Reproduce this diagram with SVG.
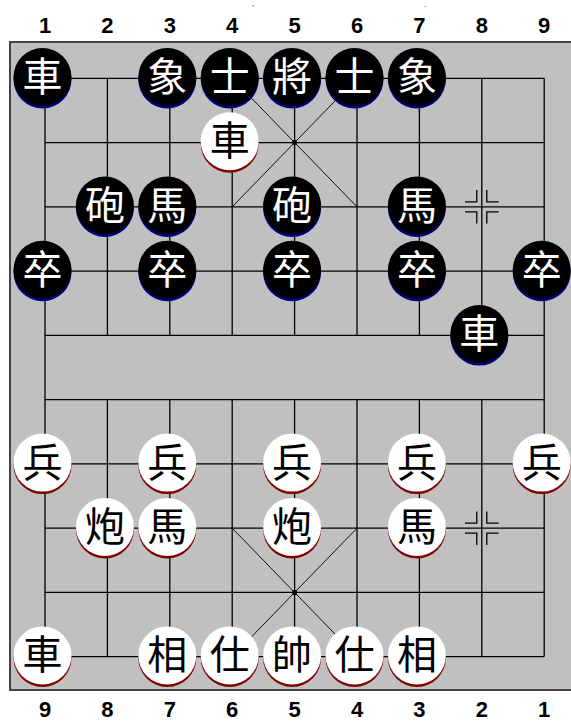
<svg xmlns="http://www.w3.org/2000/svg" width="571" height="722" viewBox="0 0 571 722">
<style>
.num{font-family:"Liberation Sans",Arial,sans-serif;font-weight:bold;font-size:22px;text-anchor:middle;fill:#000}
.g{stroke:#000;stroke-width:1.3;fill:none}
.d{stroke:#111;stroke-width:1;fill:none}
.bk .body{fill:#000}
.bk .sh{fill:#000080}
.bk text{fill:#fff}
.rd .body{fill:#fff}
.rd .sh{fill:#800000}
.rd text{fill:#000}
.pc text{font-family:"Noto Sans CJK TC","Noto Sans CJK SC",sans-serif;font-size:40px;text-anchor:middle}
</style>
<rect x="0" y="0" width="571" height="722" fill="#fff"/>
<text x="252" y="6" font-family="Liberation Sans,sans-serif" font-size="8">,</text>
<text x="424" y="7" font-family="Liberation Sans,sans-serif" font-size="8">.</text>
<g id="labels-top">
<text class="num" x="45" y="33">1</text><text class="num" x="107.4" y="33">2</text><text class="num" x="169.8" y="33">3</text><text class="num" x="232.2" y="33">4</text><text class="num" x="294.6" y="33">5</text><text class="num" x="357" y="33">6</text><text class="num" x="419.4" y="33">7</text><text class="num" x="481.8" y="33">8</text><text class="num" x="544.2" y="33">9</text>
</g>
<g id="labels-bottom">
<text class="num" x="45" y="717">9</text><text class="num" x="107.4" y="717">8</text><text class="num" x="169.8" y="717">7</text><text class="num" x="232.2" y="717">6</text><text class="num" x="294.6" y="717">5</text><text class="num" x="357" y="717">4</text><text class="num" x="419.4" y="717">3</text><text class="num" x="481.8" y="717">2</text><text class="num" x="544.2" y="717">1</text>
</g>
<g id="board">
<rect x="10" y="42" width="600" height="648" fill="#c0c0c0" stroke="#444" stroke-width="2"/>
<path class="g" d="M45 78.3H544.2M45 142.6H544.2M45 206.8H544.2M45 271.1H544.2M45 335.4H544.2M45 399.6H544.2M45 463.9H544.2M45 528.2H544.2M45 592.4H544.2M45 656.7H544.2"/>
<path class="g" d="M45 78.3V656.7M544.2 78.3V656.7M107.4 78.3V335.4M169.8 78.3V335.4M232.2 78.3V335.4M294.6 78.3V335.4M357 78.3V335.4M419.4 78.3V335.4M481.8 78.3V335.4M107.4 399.6V656.7M169.8 399.6V656.7M232.2 399.6V656.7M294.6 399.6V656.7M357 399.6V656.7M419.4 399.6V656.7M481.8 399.6V656.7"/>
<path class="d" d="M232.2 78.3L357 206.8M357 78.3L232.2 206.8M232.2 528.2L357 656.7M357 528.2L232.2 656.7"/>
<circle cx="294.6" cy="142.6" r="2.5" fill="#000"/>
<circle cx="294.6" cy="592.4" r="2.5" fill="#000"/>
<path class="g" d="M465 201.8H476.8V190M498.6 201.8H486.8V190M465 211.8H476.8V223.6M498.6 211.8H486.8V223.6"/>
<path class="g" d="M465 523.2H476.8V511.4M498.6 523.2H486.8V511.4M465 533.2H476.8V545M498.6 533.2H486.8V545"/>
</g>
<g id="pieces" class="pc">
<g id="b-che1" class="bk"><circle class="sh" cx="42.5" cy="79.5" r="29"/><circle class="body" cx="42.5" cy="77" r="29"/><text x="42.5" y="91">車</text></g>
<g id="b-xiang1" class="bk"><circle class="sh" cx="167.3" cy="79.5" r="29"/><circle class="body" cx="167.3" cy="77" r="29"/><text x="167.3" y="91">象</text></g>
<g id="b-shi1" class="bk"><circle class="sh" cx="229.7" cy="79.5" r="29"/><circle class="body" cx="229.7" cy="77" r="29"/><text x="229.7" y="91">士</text></g>
<g id="b-jiang" class="bk"><circle class="sh" cx="292.1" cy="79.5" r="29"/><circle class="body" cx="292.1" cy="77" r="29"/><text x="292.1" y="91">將</text></g>
<g id="b-shi2" class="bk"><circle class="sh" cx="354.5" cy="79.5" r="29"/><circle class="body" cx="354.5" cy="77" r="29"/><text x="354.5" y="91">士</text></g>
<g id="b-xiang2" class="bk"><circle class="sh" cx="416.9" cy="79.5" r="29"/><circle class="body" cx="416.9" cy="77" r="29"/><text x="416.9" y="91">象</text></g>
<g id="r-che-top" class="rd"><circle class="sh" cx="229.7" cy="143.8" r="29"/><circle class="body" cx="229.7" cy="141.3" r="29"/><text x="229.7" y="155.3">車</text></g>
<g id="b-pao1" class="bk"><circle class="sh" cx="104.9" cy="208" r="29"/><circle class="body" cx="104.9" cy="205.5" r="29"/><text x="104.9" y="219.5">砲</text></g>
<g id="b-ma1" class="bk"><circle class="sh" cx="167.3" cy="208" r="29"/><circle class="body" cx="167.3" cy="205.5" r="29"/><text x="167.3" y="219.5">馬</text></g>
<g id="b-pao2" class="bk"><circle class="sh" cx="292.1" cy="208" r="29"/><circle class="body" cx="292.1" cy="205.5" r="29"/><text x="292.1" y="219.5">砲</text></g>
<g id="b-ma2" class="bk"><circle class="sh" cx="416.9" cy="208" r="29"/><circle class="body" cx="416.9" cy="205.5" r="29"/><text x="416.9" y="219.5">馬</text></g>
<g id="b-zu1" class="bk"><circle class="sh" cx="42.5" cy="272.3" r="29"/><circle class="body" cx="42.5" cy="269.8" r="29"/><text x="42.5" y="283.8">卒</text></g>
<g id="b-zu2" class="bk"><circle class="sh" cx="167.3" cy="272.3" r="29"/><circle class="body" cx="167.3" cy="269.8" r="29"/><text x="167.3" y="283.8">卒</text></g>
<g id="b-zu3" class="bk"><circle class="sh" cx="292.1" cy="272.3" r="29"/><circle class="body" cx="292.1" cy="269.8" r="29"/><text x="292.1" y="283.8">卒</text></g>
<g id="b-zu4" class="bk"><circle class="sh" cx="416.9" cy="272.3" r="29"/><circle class="body" cx="416.9" cy="269.8" r="29"/><text x="416.9" y="283.8">卒</text></g>
<g id="b-zu5" class="bk"><circle class="sh" cx="541.7" cy="272.3" r="29"/><circle class="body" cx="541.7" cy="269.8" r="29"/><text x="541.7" y="283.8">卒</text></g>
<g id="b-che2" class="bk"><circle class="sh" cx="479.3" cy="336.6" r="29"/><circle class="body" cx="479.3" cy="334.1" r="29"/><text x="479.3" y="348.1">車</text></g>
<g id="r-bing1" class="rd"><circle class="sh" cx="42.5" cy="465.1" r="29"/><circle class="body" cx="42.5" cy="462.6" r="29"/><text x="42.5" y="476.6">兵</text></g>
<g id="r-bing2" class="rd"><circle class="sh" cx="167.3" cy="465.1" r="29"/><circle class="body" cx="167.3" cy="462.6" r="29"/><text x="167.3" y="476.6">兵</text></g>
<g id="r-bing3" class="rd"><circle class="sh" cx="292.1" cy="465.1" r="29"/><circle class="body" cx="292.1" cy="462.6" r="29"/><text x="292.1" y="476.6">兵</text></g>
<g id="r-bing4" class="rd"><circle class="sh" cx="416.9" cy="465.1" r="29"/><circle class="body" cx="416.9" cy="462.6" r="29"/><text x="416.9" y="476.6">兵</text></g>
<g id="r-bing5" class="rd"><circle class="sh" cx="541.7" cy="465.1" r="29"/><circle class="body" cx="541.7" cy="462.6" r="29"/><text x="541.7" y="476.6">兵</text></g>
<g id="r-pao1" class="rd"><circle class="sh" cx="104.9" cy="529.4" r="29"/><circle class="body" cx="104.9" cy="526.9" r="29"/><text x="104.9" y="540.9">炮</text></g>
<g id="r-ma1" class="rd"><circle class="sh" cx="167.3" cy="529.4" r="29"/><circle class="body" cx="167.3" cy="526.9" r="29"/><text x="167.3" y="540.9">馬</text></g>
<g id="r-pao2" class="rd"><circle class="sh" cx="292.1" cy="529.4" r="29"/><circle class="body" cx="292.1" cy="526.9" r="29"/><text x="292.1" y="540.9">炮</text></g>
<g id="r-ma2" class="rd"><circle class="sh" cx="416.9" cy="529.4" r="29"/><circle class="body" cx="416.9" cy="526.9" r="29"/><text x="416.9" y="540.9">馬</text></g>
<g id="r-che" class="rd"><circle class="sh" cx="42.5" cy="657.9" r="29"/><circle class="body" cx="42.5" cy="655.4" r="29"/><text x="42.5" y="669.4">車</text></g>
<g id="r-xiang1" class="rd"><circle class="sh" cx="167.3" cy="657.9" r="29"/><circle class="body" cx="167.3" cy="655.4" r="29"/><text x="167.3" y="669.4">相</text></g>
<g id="r-shi1" class="rd"><circle class="sh" cx="229.7" cy="657.9" r="29"/><circle class="body" cx="229.7" cy="655.4" r="29"/><text x="229.7" y="669.4">仕</text></g>
<g id="r-shuai" class="rd"><circle class="sh" cx="292.1" cy="657.9" r="29"/><circle class="body" cx="292.1" cy="655.4" r="29"/><text x="292.1" y="669.4">帥</text></g>
<g id="r-shi2" class="rd"><circle class="sh" cx="354.5" cy="657.9" r="29"/><circle class="body" cx="354.5" cy="655.4" r="29"/><text x="354.5" y="669.4">仕</text></g>
<g id="r-xiang2" class="rd"><circle class="sh" cx="416.9" cy="657.9" r="29"/><circle class="body" cx="416.9" cy="655.4" r="29"/><text x="416.9" y="669.4">相</text></g>
</g>
</svg>
